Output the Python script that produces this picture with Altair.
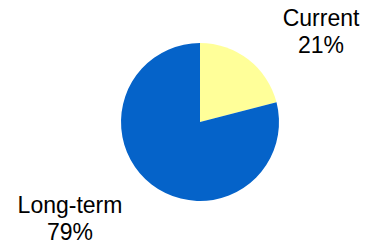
import altair as alt
import pandas as pd

categories = ["Current", "Long-term"]
shares = [21, 79]
rank = [0, 1]
colors = ["#FFFF99", "#0563C9"]

df = pd.DataFrame({"category": categories, "share": shares, "rank": rank})

W, H = 354, 234
base = alt.Chart(df)

pie = base.mark_arc(outerRadius=79).encode(
    theta=alt.Theta("share:Q", stack=True),
    color=alt.Color("category:N", scale=alt.Scale(domain=categories, range=colors), legend=None),
    order=alt.Order("rank:Q"),
    x=alt.value(192),
    y=alt.value(114),
)

labeled = base.transform_calculate(label="datum.category + '\\n' + datum.share + '%'")
text_style = dict(fontSize=23, font="Liberation Sans", lineBreak="\n", lineHeight=27,
                  align="center", baseline="alphabetic", color="black")

cur = labeled.transform_filter("datum.category == 'Current'").mark_text(**text_style).encode(
    text="label:N", x=alt.value(313), y=alt.value(18))
lt = labeled.transform_filter("datum.category == 'Long-term'").mark_text(**text_style).encode(
    text="label:N", x=alt.value(62), y=alt.value(205))

chart = alt.layer(pie, cur, lt).properties(
    width=W, height=H, padding=0, autosize=alt.AutoSizeParams(type="none"), background="white"
).configure_view(stroke=None)

chart.save("out.html", embed_options={"renderer": "svg", "actions": False})
